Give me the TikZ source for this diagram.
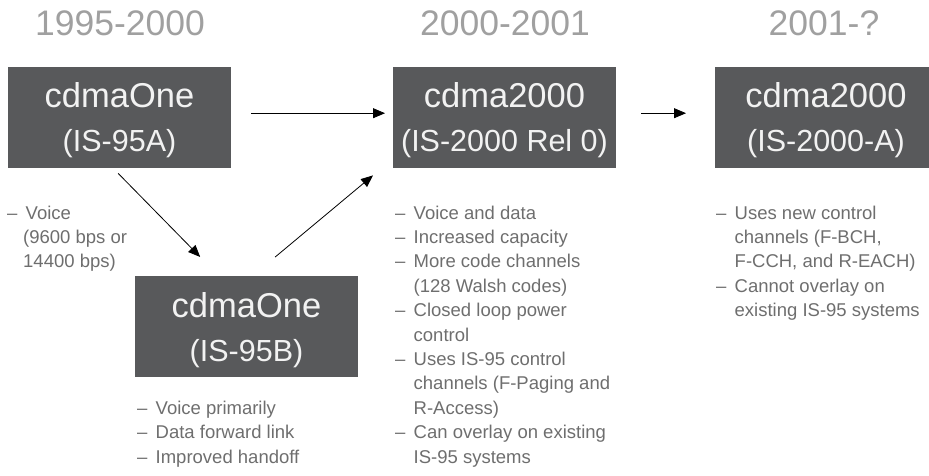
\documentclass[tikz,border=0pt]{standalone}
\usepackage{fontspec}
\setmainfont{Liberation Sans}
\usetikzlibrary{arrows.meta}
\definecolor{boxgray}{HTML}{58595B}
\definecolor{titlegray}{HTML}{A0A0A0}
\definecolor{listgray}{HTML}{6E6E6E}
\definecolor{boxtext}{HTML}{F2F2F2}
\newcommand\itemdash{\makebox[18.5pt][l]{–}}
\newcommand\itemind{\hspace*{18.5pt}}
\begin{document}
\begin{tikzpicture}[x=1pt,y=-1pt,
  genbox/.style={fill=boxgray, draw=none, inner sep=0pt, minimum width=223pt, minimum height=101pt, anchor=north west},
  yeartitle/.style={anchor=base, inner sep=0pt, text=titlegray, font=\fontsize{35.5}{40}\selectfont},
  bigl/.style={anchor=base, inner sep=0pt, text=boxtext, font=\fontsize{34.5}{40}\selectfont},
  smalll/.style={anchor=base, inner sep=0pt, text=boxtext, font=\fontsize{30.5}{36}\selectfont},
  li/.style={anchor=base west, inner sep=0pt, text=listgray, font=\fontsize{18.5}{22}\selectfont},
  arr/.style={draw=black, line width=0.8pt, -{Triangle[length=12pt,width=10pt]}}]
\useasboundingbox (0,0) rectangle (929,476);

% titles
\node[yeartitle] (t1) at (120,36) {1995-2000};
\node[yeartitle] (t2) at (505,36) {2000-2001};
\node[yeartitle] (t3) at (824,36) {2001-?};

% boxes
\node[genbox] (b1) at (8,67) {};
\node[genbox] (b2) at (393,67) {};
\node[genbox, minimum width=214pt] (b3) at (715,67) {};
\node[genbox] (b4) at (135,276) {};

\node[bigl] (b1a) at (119.5,108) {cdmaOne};
\node[smalll] (b1b) at (119.5,152) {(IS-95A)};
\node[bigl] (b2a) at (504.5,108) {cdma2000};
\node[smalll] (b2b) at (504.5,152) {(IS-2000 Rel 0)};
\node[bigl] (b3a) at (826,108) {cdma2000};
\node[smalll] (b3b) at (826,152) {(IS-2000-A)};
\node[bigl] (b4a) at (246.5,317) {cdmaOne};
\node[smalll] (b4b) at (246.5,361) {(IS-95B)};

% arrows
\draw[arr] ([shift={(20,-4.5)}]b1.east) -- ([shift={(-8,-4.5)}]b2.west);
\draw[arr] ([shift={(25,-4.5)}]b2.east) -- ([shift={(-29,-4.5)}]b3.west);
\draw[arr] ([shift={(-1.5,5)}]b1.south) -- ([shift={(-46.5,-19)}]b4.north);
\draw[arr] ([shift={(28.5,-19)}]b4.north) -- ([shift={(-20,7)}]b2.south west);

% list 1
\node[li] (l1a) at (7,219) {\itemdash Voice};
\node[li] (l1b) at (7,243.4) {\hspace*{16pt}(9600 bps or};
\node[li] (l1c) at (7,267.8) {\hspace*{16pt}14400 bps)};

% list 2
\node[li] (l2a) at (395,219) {\itemdash Voice and data};
\node[li] (l2b) at (395,243.4) {\itemdash Increased capacity};
\node[li] (l2c) at (395,267.8) {\itemdash More code channels};
\node[li] (l2d) at (395,292.2) {\itemind (128 Walsh codes)};
\node[li] (l2e) at (395,316.6) {\itemdash Closed loop power};
\node[li] (l2f) at (395,341) {\itemind control};
\node[li] (l2g) at (395,365.4) {\itemdash Uses IS-95 control};
\node[li] (l2h) at (395,389.8) {\itemind channels (F-Paging and};
\node[li] (l2i) at (395,414.2) {\itemind R-Access)};
\node[li] (l2j) at (395,438.6) {\itemdash Can overlay on existing};
\node[li] (l2k) at (395,463) {\itemind IS-95 systems};

% list 3
\node[li] (l3a) at (716,219) {\itemdash Uses new control};
\node[li] (l3b) at (716,243.4) {\itemind channels (F-BCH,};
\node[li] (l3c) at (716,267.8) {\itemind F-CCH, and R-EACH)};
\node[li] (l3d) at (716,292.2) {\itemdash Cannot overlay on};
\node[li] (l3e) at (716,316.6) {\itemind existing IS-95 systems};

% list 4
\node[li] (l4a) at (137,414.2) {\itemdash Voice primarily};
\node[li] (l4b) at (137,438.6) {\itemdash Data forward link};
\node[li] (l4c) at (137,463) {\itemdash Improved handoff};
\end{tikzpicture}
\end{document}
